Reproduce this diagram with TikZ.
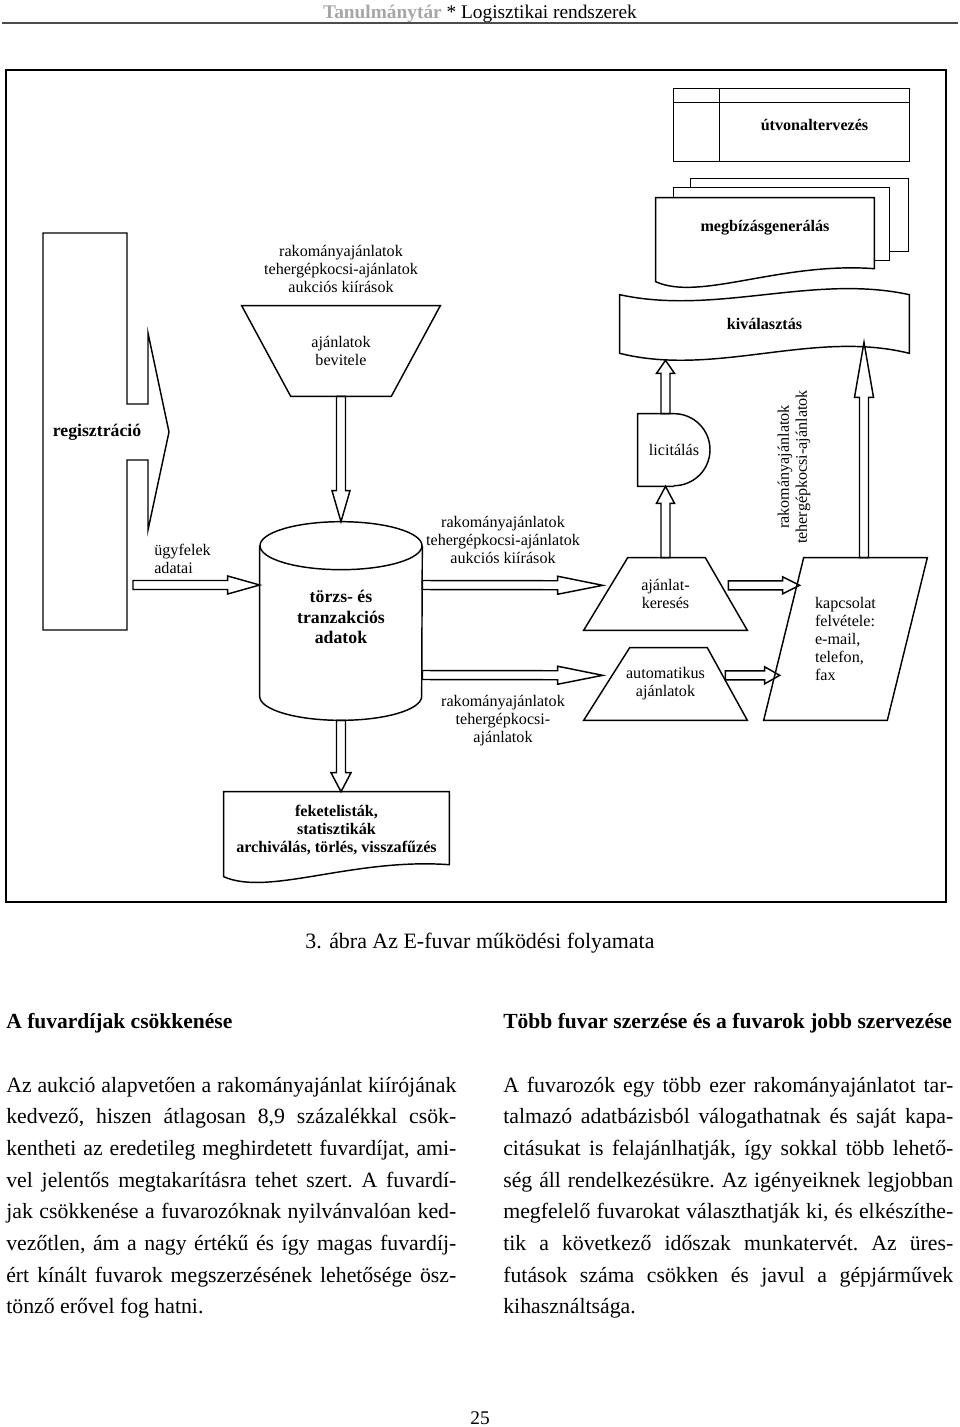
\documentclass[tikz,border=0pt]{standalone}
\usepackage{fontspec}
\setmainfont{Liberation Serif}
\usepackage{tikz}
\usetikzlibrary{positioning,calc}
\definecolor{hdrclr}{rgb}{0.65, 0.65, 0.65}
\definecolor{ruleclr}{rgb}{0.3, 0.3, 0.3}
\newcommand{\pxu}{0.62pt}
\newcommand{\dgfont}{\fontsize{10}{11.2}\selectfont}
\newcommand{\hdrfont}{\fontsize{12}{14}\selectfont}
\newcommand{\bodyfont}{\fontsize{13.5}{16}\selectfont\frenchspacing}
\newcommand{\headfont}{\fontsize{13.35}{16}\selectfont\bfseries}
\newcommand{\jline}[1]{\hbox to 279pt{#1}}
% hollow block arrow: start, tip, head length, head half width (px)
\newcommand{\hollowarrow}[4]{%
  \coordinate (ha) at (#1);
  \coordinate (ht) at (#2);
  \coordinate (hb) at ($(ht)!#3*\pxu!(ha)$);
  \draw[blockarrow] ($(ha)!4.5*\pxu!90:(ht)$) -- ($(hb)!4.5*\pxu!90:(ht)$)
    -- ($(hb)!#4*\pxu!90:(ht)$) -- (ht) -- ($(hb)!#4*\pxu!-90:(ht)$)
    -- ($(hb)!4.5*\pxu!-90:(ht)$) -- ($(ha)!4.5*\pxu!-90:(ht)$) -- cycle;
}
\tikzset{ %
  ,>=latex
  ,every node/.style={font=\dgfont, inner sep=0}
  ,shp/.style={draw, line width=0.9pt}
  ,area/.style 2 args={minimum width=#1*\pxu, minimum height=#2*\pxu, inner sep=0, align=center}
  ,lbl/.style={align=center, inner sep=0}
  ,bold/.style={font=\dgfont\bfseries}
  ,bigbold/.style={font=\fontsize{11}{12.5}\selectfont\bfseries}
  ,blockarrow/.style={draw, line width=0.9pt, line join=miter}
}

\begin{document}
\begin{tikzpicture}[x=0.62pt, y=-0.62pt]
  \useasboundingbox (0,0) rectangle (960,1427);

  % page header
  \node[anchor=base, font=\hdrfont] (hdr) at (480,18)
    {\textcolor{hdrclr}{\bfseries Tanulmánytár} * Logisztikai rendszerek};
  \draw[ruleclr, line width=1.3pt] (2,23) -- (958,23);

  % frame of the figure
  \draw[line width=1pt] (6,70) rectangle (946,902);

  % routing
  \node[area={189}{72}, bold] (route) at (814.5,125) {útvonaltervezés};
  \draw[shp] ($(route.north west)+(-46,0)$) rectangle (route.south east);
  \draw[shp] (route.north west) -- (route.south west);
  \draw[shp] ($(route.north west)+(-46,14)$) -- ($(route.north east)+(0,14)$);

  % orders (multi document)
  \node[area={218}{60}, bold] (orders) at (765,228) {megbízásgenerálás};
  \draw[shp] ($(orders.north west)+(35,-10)$) -- ++(0,-9) -- ++(218,0) -- ++(0,73) -- ++(-19,0);
  \draw[shp] ($(orders.north west)+(18,0)$) -- ++(0,-10) -- ++(216,0) -- ++(0,73) -- ++(-16,0);
  \draw[shp] (orders.north west) -- (orders.north east) -- ++(0,71)
    .. controls +(-94,-7) and +(44,20) .. ($(orders.north west)+(0,84)$) -- cycle;

  % selection (tape)
  \node[area={289}{58}, bold] (select) at (764.5,324) {kiválasztás};
  \draw[shp] (select.north west) .. controls +(96,21) and +(-96,-21) .. (select.north east)
    -- (select.south east) .. controls +(-96,-24) and +(96,24) .. (select.south west) -- cycle;

  % bidding (delay)
  \node[area={72}{72}] (bid) at (674,450) {licitálás};
  \draw[shp] (bid.south) -- (bid.south west) -- (bid.north west) -- (bid.north)
    arc[start angle=-90, end angle=90, radius=36];

  % search, automatic offers, contact
  \node[area={163}{72}] (kw) at (665.5,594) {ajánlat-\\keresés};
  \draw[shp] (kw.south west) -- ($(kw.north west)+(44,0)$) -- ($(kw.north east)+(-42,0)$)
    -- (kw.south east) -- cycle;
  \node[area={163}{72}] (auto) at (665.5,684) {automatikus\\ajánlatok};
  \draw[shp] (auto.south west) -- ($(auto.north west)+(46,0)$) -- ($(auto.north east)+(-40,0)$)
    -- (auto.south east) -- cycle;
  \node[area={163}{162}, align=left] (contact) at (845.5,639)
    {kapcsolat\\felvétele:\\e-mail,\\telefon,\\fax};
  \draw[shp] (contact.south west) -- ($(contact.north west)+(40,0)$) -- (contact.north east)
    -- ($(contact.south east)+(-40,0)$) -- cycle;

  % input of offers
  \node[area={198}{90}] (bevitele) at (341,351) {ajánlatok\\bevitele};
  \draw[shp] (bevitele.north west) -- (bevitele.north east) -- ($(bevitele.south east)+(-49,0)$)
    -- ($(bevitele.south west)+(49,0)$) -- cycle;
  \node[lbl] (offersin) at (341,269) {rakományajánlatok\\tehergépkocsi-ajánlatok\\aukciós kiírások};

  % database (cylinder)
  \node[area={162}{198}, bigbold] (db) at (341,621) {törzs- és\\tranzakciós\\adatok\\[-7.5pt]};
  \draw[shp] ($(db.north west)+(0,24)$) -- ($(db.south west)+(0,-24)$)
    arc[start angle=180, end angle=0, x radius=81, y radius=24] -- ($(db.north east)+(0,24)$);
  \draw[shp] ($(db.north)+(0,24)$) ellipse [x radius=81, y radius=24];

  % registration
  \node[bigbold] (reg) at (97,432) {regisztráció};
  \draw[shp] (43,233) -- (127,233) -- (127,404) -- (148,404) -- (148,333) -- (169,432)
    -- (148,530) -- (148,460) -- (127,460) -- (127,630) -- (43,630) -- cycle;
  \coordinate (regout) at (133,585);

  % lists (document)
  \node[area={225}{76}, bold] (lists) at (336.5,830)
    {feketelisták,\\statisztikák\\archiválás, törlés, visszafűzés};
  \draw[shp] (lists.north west) -- (lists.north east) -- ++(0,73)
    .. controls +(-97,-7) and +(45,20) .. ($(lists.north west)+(0,85)$) -- cycle;

  % labels
  \node[lbl] (offersdb) at (503,540) {rakományajánlatok\\tehergépkocsi-ajánlatok\\aukciós kiírások};
  \node[lbl] (offersauto) at (503,721) {rakományajánlatok\\tehergépkocsi-\\ajánlatok};
  \node[lbl, align=left, anchor=west] (clients) at (154,559) {ügyfelek\\adatai};
  \node[lbl, rotate=90] (offerscontact) at (794,467) {rakományajánlatok\\tehergépkocsi-ajánlatok};

  % arrows
  \hollowarrow{bevitele.south}{db.north}{31}{9}
  \hollowarrow{regout}{db.west |- regout}{32}{9}
  \hollowarrow{$(db.east)+(0,-36)$}{$(kw.south west)+(19,-45)$}{45}{9}
  \hollowarrow{$(db.east)+(0,54)$}{$(auto.south west)+(19,-45)$}{45}{9}
  \hollowarrow{$(kw.south east)+(-19,-45)$}{$(contact.south west)+(36,-135)$}{17}{8.5}
  \hollowarrow{$(auto.south east)+(-22,-45)$}{$(contact.south west)+(16,-45)$}{15}{8.5}
  \hollowarrow{kw.north}{kw.north |- bid.south}{17}{9}
  \hollowarrow{kw.north |- bid.north}{$(kw.north |- select.south)+(0,7)$}{13}{9}
  \hollowarrow{$(contact.north)+(18.5,0)$}{$(select.south)+(99.5,-11)$}{55}{9.5}
  \hollowarrow{db.south}{db.south |- lists.north}{19}{10}

  % caption
  \node[anchor=base, font=\fontsize{13.6}{16}\selectfont] (caption) at (480,948)
    {3. ábra Az E-fuvar működési folyamata};

  % text below
  \node[anchor=base west, font=\headfont] (headL) at (6,1028) {A fuvardíjak csökkenése};
  \node[anchor=base west, font=\headfont] (headR) at (503,1028)
    {Több fuvar szerzése és a fuvarok jobb szervezése};
  \node[anchor=base west, font=\bodyfont] (paraL) at (6,1092) {\vtop{\baselineskip=19.66pt
    \jline{Az aukció alapvetően a rakományajánlat kiírójának}
    \jline{kedvező, hiszen átlagosan 8,9 százalékkal csök-}
    \jline{kentheti az eredetileg meghirdetett fuvardíjat, ami-}
    \jline{vel jelentős megtakarításra tehet szert. A fuvardí-}
    \jline{jak csökkenése a fuvarozóknak nyilvánvalóan ked-}
    \jline{vezőtlen, ám a nagy értékű és így magas fuvardíj-}
    \jline{ért kínált fuvarok megszerzésének lehetősége ösz-}
    \hbox{tönző erővel fog hatni.}}};
  \node[anchor=base west, font=\bodyfont] (paraR) at (503,1092) {\vtop{\baselineskip=19.66pt
    \jline{A fuvarozók egy több ezer rakományajánlatot tar-}
    \jline{talmazó adatbázisból válogathatnak és saját kapa-}
    \jline{citásukat is felajánlhatják, így sokkal több lehető-}
    \jline{ség áll rendelkezésükre. Az igényeiknek legjobban}
    \jline{megfelelő fuvarokat választhatják ki, és elkészíthe-}
    \jline{tik a következő időszak munkatervét. Az üres-}
    \jline{futások száma csökken és javul a gépjárművek}
    \hbox{kihasználtsága.}}};

  % page number
  \node[anchor=base, font=\hdrfont] (pagenum) at (480,1424) {25};
\end{tikzpicture}
\end{document}
